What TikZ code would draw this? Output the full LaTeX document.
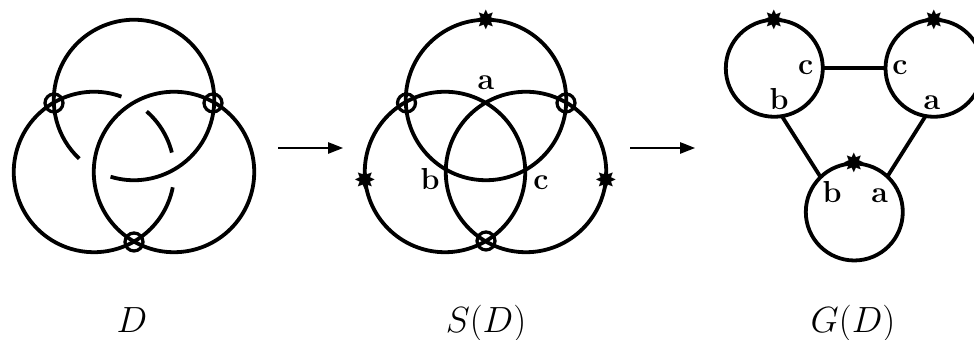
\documentclass[tikz,border=0pt]{standalone}
\usepackage{amsmath,amssymb}
\usepackage{fontspec}
\newfontfamily\starfont{DejaVu Sans}
\usetikzlibrary{arrows.meta, positioning, calc}

\begin{document}
\begin{tikzpicture}[
  x=0.02cm, y=0.02cm,
  >={Triangle[length=0.3cm, width=0.23cm]},
  strand/.style={line width=0.076cm},
  ring/.style={draw, circle, line width=0.076cm, minimum size=3.21cm, inner sep=0pt, outer sep=0pt},
  vertex/.style={draw, circle, line width=0.076cm, minimum size=1.94cm, inner sep=0pt, outer sep=0pt},
  crossing/.style={draw, circle, line width=0.065cm, minimum size=0.36cm, inner sep=0pt, outer sep=0pt},
  basept/.style={inner sep=0pt, font=\starfont\fontsize{15}{15}\selectfont},
  lab/.style={anchor=base, inner sep=0pt, font=\LARGE\bfseries},
  title/.style={anchor=base, inner sep=0pt, font=\huge},
  maparrow/.style={->, line width=0.026cm},
]
  \useasboundingbox (0,0) rectangle (974,340);

  \coordinate (Dtop) at (134,240);
  \coordinate (Dleft) at (94,168);
  \node[ring] (Dright) at (174,168) {};
  \draw[strand] ([shift={(253:1.605cm)}]Dtop) arc[start angle=253, end angle=587, radius=1.605cm];
  \draw[strand] ([shift={(70:1.605cm)}]Dleft) arc[start angle=70, end angle=349, radius=1.605cm];
  \draw[strand] ([shift={(49:1.605cm)}]Dleft) arc[start angle=49, end angle=14, radius=1.605cm];
  \node[crossing] (Dxa) at (54,237) {};
  \node[crossing] (Dxb) at (213,237) {};
  \node[crossing] (Dxc) at (134,98) {};
  \node[title] (Dtitle) at (132,7) {$D$};

  \coordinate (mapa) at (278,192);
  \coordinate (mapb) at (343,192);
  \draw[maparrow] (mapa) -- (mapb);

  \node[ring] (Stop) at (486,240) {};
  \node[ring] (Sleft) at (445,168) {};
  \node[ring] (Sright) at (526,168) {};
  \node[crossing] (Sxa) at (406.5,237) {};
  \node[crossing] (Sxb) at (566,237) {};
  \node[crossing] (Sxc) at (486,99) {};
  \node[basept] (Sma) at (486,320) {✸};
  \node[basept] (Smb) at (365,160) {✸};
  \node[basept] (Smc) at (606,160) {✸};
  \node[lab] (Sa) at (486,250) {a};
  \node[lab] (Sb) at (430,150) {b};
  \node[lab] (Sc) at (541,150) {c};
  \node[title] (Stitle) at (486,7) {$S(D)$};

  \coordinate (mapc) at (630,192);
  \coordinate (mapd) at (695,192);
  \draw[maparrow] (mapc) -- (mapd);

  \node[vertex] (Gleft) at (774.3,271.7) {};
  \node[vertex] (Gright) at (934,271.7) {};
  \node[vertex] (Gbot) at (854.3,128) {};
  \draw[strand] (Gleft) -- (Gright);
  \draw[strand] (Gleft.-81) -- (Gbot.134);
  \draw[strand] (Gright.260) -- (Gbot.47);
  \node[basept] (Gma) at (774,320) {✸};
  \node[basept] (Gmb) at (934,320) {✸};
  \node[basept] (Gmc) at (854,177) {✸};
  \node[lab] (Gc) at (805.7,265) {c};
  \node[lab] (Gd) at (900,265) {c};
  \node[lab] (Gb) at (779,230) {b};
  \node[lab] (Ga) at (932,230) {a};
  \node[lab] (Ge) at (832,137.3) {b};
  \node[lab] (Gf) at (879.7,137.3) {a};
  \node[title] (Gtitle) at (853,7) {$G(D)$};
\end{tikzpicture}
\end{document}
